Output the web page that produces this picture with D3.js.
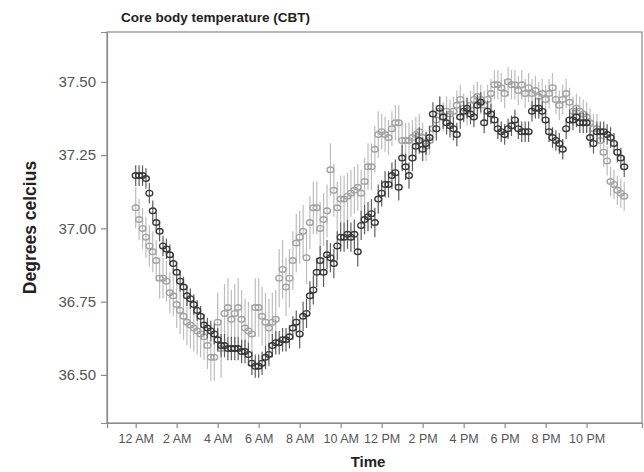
<!DOCTYPE html>
<html>
<head>
<meta charset="utf-8">
<script src="https://cdn.jsdelivr.net/npm/d3@7"></script>
<style>
  html, body { margin: 0; padding: 0; background: #fff; }
  svg { display: block; font-family: "Liberation Sans", Arial, sans-serif; }
</style>
</head>
<body>
<svg id="chart" width="644" height="472"></svg>
<script>
// Sampling interval of the recordings (minutes) and hour ticks
const intervalMinutes = 10;
const tickHours = [0, 2, 4, 6, 8, 10, 12, 14, 16, 18, 20, 22];
const tickLabels = ["12 AM", "2 AM", "4 AM", "6 AM", "8 AM", "10 AM", "12 PM", "2 PM", "4 PM", "6 PM", "8 PM", "10 PM"];
const yTicks = [36.50, 36.75, 37.00, 37.25, 37.50];

// Mean CBT, dark series (10-minute bins from midnight)
const darkMean = [
  37.18,37.18,37.18,37.17,37.12,37.06,37.02,36.99,36.94,36.93,
  36.91,36.88,36.85,36.82,36.80,36.77,36.76,36.74,36.72,36.70,
  36.67,36.66,36.65,36.64,36.62,36.60,36.60,36.59,36.59,36.59,
  36.59,36.58,36.58,36.57,36.54,36.53,36.53,36.54,36.56,36.57,
  36.60,36.61,36.61,36.62,36.62,36.63,36.66,36.68,36.64,36.70,
  36.71,36.77,36.79,36.85,36.89,36.85,36.91,36.90,36.88,36.94,
  36.97,36.97,36.98,36.97,36.98,36.92,37.01,37.03,37.04,37.05,
  37.02,37.10,37.12,37.15,37.15,37.18,37.19,37.14,37.24,37.21,
  37.18,37.24,37.28,37.30,37.27,37.29,37.31,37.39,37.34,37.41,
  37.38,37.36,37.35,37.34,37.32,37.38,37.40,37.41,37.39,37.38,
  37.42,37.43,37.36,37.40,37.39,37.37,37.34,37.33,37.32,37.34,
  37.35,37.37,37.34,37.33,37.33,37.33,37.40,37.41,37.41,37.40,
  37.37,37.33,37.31,37.30,37.29,37.27,37.34,37.37,37.37,37.38,
  37.36,37.36,37.36,37.31,37.29,37.33,37.33,37.33,37.32,37.31,
  37.29,37.26,37.24,37.21
];

// Mean CBT, light series
const lightMean = [
  37.07,37.03,37.00,36.97,36.94,36.92,36.89,36.83,36.83,36.82,
  36.78,36.77,36.74,36.72,36.70,36.68,36.67,36.66,36.65,36.64,
  36.63,36.60,36.56,36.56,36.68,36.59,36.71,36.73,36.69,36.71,
  36.73,36.69,36.66,36.65,36.64,36.73,36.73,36.70,36.68,36.66,
  36.68,36.69,36.83,36.86,36.80,36.83,36.89,36.95,36.97,36.99,
  36.90,37.02,37.07,37.07,37.00,37.03,37.06,37.20,37.13,37.07,
  37.10,37.10,37.11,37.12,37.13,37.14,37.12,37.16,37.21,37.21,
  37.27,37.32,37.33,37.32,37.31,37.34,37.36,37.36,37.30,37.30,
  37.30,37.31,37.32,37.33,37.31,37.28,37.30,37.34,37.37,37.40,
  37.38,37.40,37.39,37.40,37.42,37.44,37.41,37.40,37.42,37.44,
  37.45,37.44,37.42,37.44,37.46,37.49,37.49,37.48,37.46,37.50,
  37.49,37.49,37.47,37.49,37.46,37.48,37.46,37.47,37.45,37.46,
  37.44,37.46,37.48,37.44,37.42,37.44,37.46,37.43,37.40,37.41,
  37.40,37.39,37.38,37.36,37.34,37.34,37.30,37.26,37.23,37.16,
  37.15,37.13,37.12,37.11
];

// Error-bar half-widths (degrees), one per two-hour block
const darkErr  = [0.035, 0.035, 0.04, 0.04, 0.05, 0.05, 0.045, 0.04, 0.035, 0.035, 0.035, 0.035];
const lightErr = [0.07, 0.08, 0.10, 0.10, 0.09, 0.08, 0.06, 0.05, 0.05, 0.05, 0.05, 0.05];

const svg = d3.select("#chart");
const W = 644, H = 472;
const plot = { left: 107, right: 642, top: 32, bottom: 423 };

const x = d3.scaleLinear().domain([-1.4, 24.7]).range([plot.left, plot.right]);
const y = d3.scaleLinear().domain([36.336, 37.670]).range([plot.bottom, plot.top]);

svg.append("rect").attr("width", W).attr("height", H).attr("fill", "#fff");

// Plot frame
svg.append("rect")
  .attr("x", plot.left).attr("y", plot.top)
  .attr("width", plot.right - plot.left).attr("height", plot.bottom - plot.top)
  .attr("fill", "none").attr("stroke", "#8a8a8a").attr("stroke-width", 1.2);

// Axes
const yAxis = d3.axisLeft(y).tickValues(yTicks).tickFormat(d3.format(".2f")).tickSize(6).tickPadding(5);
const gy = svg.append("g").attr("transform", `translate(${plot.left},0)`).call(yAxis);
const xAxis = d3.axisBottom(x).tickValues(tickHours).tickFormat((d, i) => tickLabels[i]).tickSize(5).tickPadding(6);
const gx = svg.append("g").attr("transform", `translate(0,${plot.bottom})`).call(xAxis);

[gx, gy].forEach(g => {
  g.select(".domain").attr("stroke", "#8a8a8a").attr("stroke-width", 1.2);
  g.selectAll(".tick line").attr("stroke", "#8a8a8a").attr("stroke-width", 1.2);
  g.selectAll(".tick text").attr("fill", "#555").style("font-family", "'Liberation Sans', Arial, sans-serif");
});
gy.selectAll(".tick text").style("font-size", "15px");
gx.selectAll(".tick text").style("font-size", "12.5px");

// Build point records
function records(means, errs) {
  return means.map((m, i) => {
    const h = i * intervalMinutes / 60;
    return { h, m, e: errs[Math.floor(h / 2)] };
  });
}
const lightData = records(lightMean, lightErr);
const darkData = records(darkMean, darkErr);

function drawSeries(data, barColor, ringColor) {
  const g = svg.append("g");
  g.selectAll("line.err").data(data).join("line")
    .attr("class", "err")
    .attr("x1", d => x(d.h)).attr("x2", d => x(d.h))
    .attr("y1", d => y(d.m - d.e)).attr("y2", d => y(d.m + d.e))
    .attr("stroke", barColor).attr("stroke-width", 1.2);
  g.selectAll("ellipse").data(data).join("ellipse")
    .attr("cx", d => x(d.h)).attr("cy", d => y(d.m))
    .attr("rx", 3.4).attr("ry", 2.8)
    .attr("fill", "none").attr("stroke", ringColor).attr("stroke-width", 1.4);
}
drawSeries(lightData, "#bdbdbd", "#a2a2a2");
drawSeries(darkData, "#5e5e5e", "#383838");

// Titles
svg.append("text").attr("x", 121).attr("y", 22)
  .attr("font-size", 13.5).attr("font-weight", "bold").attr("fill", "#222")
  .text("Core body temperature (CBT)");

svg.append("text")
  .attr("transform", `translate(36,${(plot.top + plot.bottom) / 2}) rotate(-90)`)
  .attr("text-anchor", "middle")
  .attr("font-size", 17.5).attr("font-weight", "bold").attr("fill", "#222")
  .text("Degrees celcius");

svg.append("text").attr("x", 368).attr("y", 467)
  .attr("text-anchor", "middle")
  .attr("font-size", 15).attr("font-weight", "bold").attr("fill", "#222")
  .text("Time");
</script>
</body>
</html>
